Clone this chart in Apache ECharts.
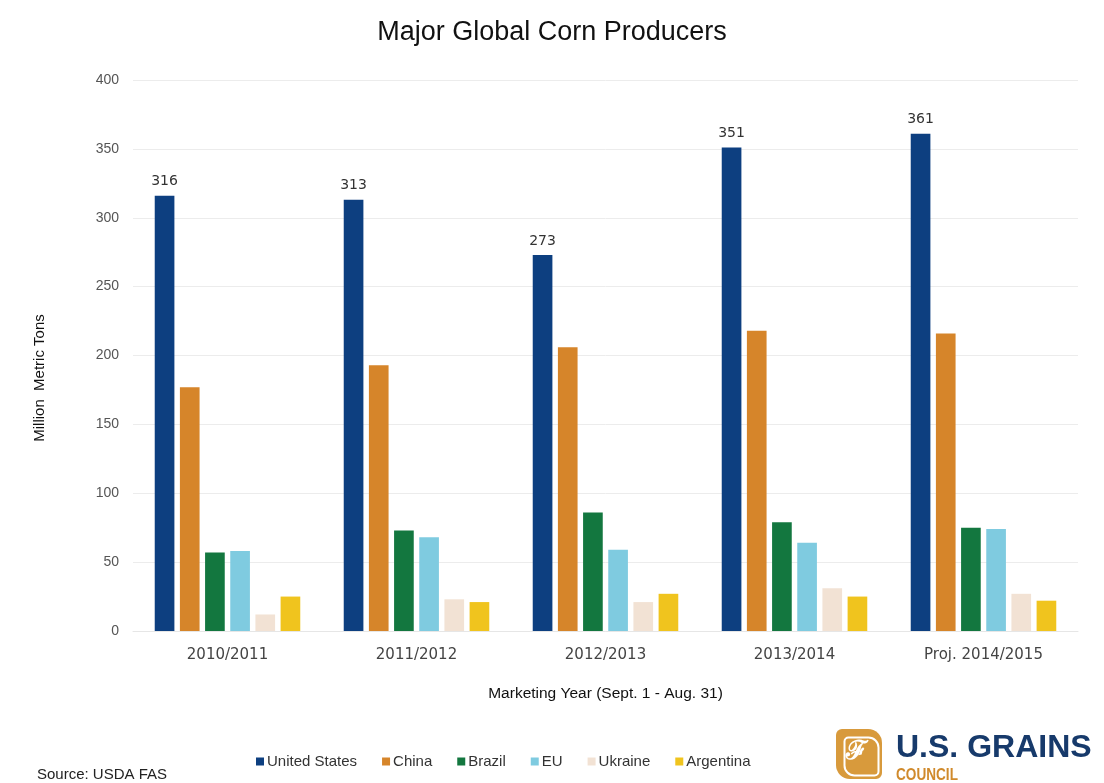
<!DOCTYPE html>
<html>
<head>
<meta charset="utf-8">
<script src="https://cdn.jsdelivr.net/npm/echarts@6/dist/echarts.min.js"></script>
<style>
  html, body { margin: 0; padding: 0; background: #ffffff; }
  #chart { width: 1104px; height: 783px; }
</style>
</head>
<body>
<div id="chart"></div>
<script>
// Marketing years (Sept. 1 - Aug. 31)
const years = ['2010/2011', '2011/2012', '2012/2013', '2013/2014', 'Proj. 2014/2015'];

// Corn production, million metric tons
const unitedStates = [316, 313, 273, 351, 361];
const china        = [177, 193, 206, 218, 216];
const brazil       = [57, 73, 86, 79, 75];
const eu           = [58, 68, 59, 64, 74];
const ukraine      = [12, 23, 21, 31, 27];
const argentina    = [25, 21, 27, 25, 22];

const yTicks = { min: 0, max: 400, interval: 50 };

const sans = '"Liberation Sans", Arial, sans-serif';
const wide = '"DejaVu Sans", Verdana, sans-serif';

const colors = {
  us: '#0d3f80',
  china: '#d6852a',
  brazil: '#13773f',
  eu: '#7fcbe0',
  ukraine: '#f2e2d4',
  argentina: '#f0c41e'
};

function bar(name, data, color, showLabel) {
  return {
    name: name,
    type: 'bar',
    data: data,
    itemStyle: { color: color },
    barGap: '28%',
    barCategoryGap: '23%',
    emphasis: { disabled: true },
    label: showLabel ? {
      show: true,
      position: 'top',
      distance: 7,
      color: '#333333',
      fontFamily: wide,
      fontSize: 14
    } : { show: false }
  };
}

const chart = echarts.init(document.getElementById('chart'), null, { renderer: 'canvas' });

chart.setOption({
  animation: false,
  backgroundColor: '#ffffff',
  title: {
    text: 'Major Global Corn Producers',
    left: 'center',
    top: 14,
    textStyle: { fontFamily: sans, fontSize: 27, fontWeight: 'normal', color: '#111111' }
  },
  grid: { left: 133, right: 26, top: 80, bottom: 152, containLabel: false },
  legend: {
    left: 251,
    top: 749,
    itemWidth: 8,
    itemHeight: 8,
    itemGap: 25,
    icon: 'rect',
    textStyle: { fontFamily: sans, fontSize: 15, color: '#333333', padding: [0, 0, 0, -2] },
    data: ['United States', 'China', 'Brazil', 'EU', 'Ukraine', 'Argentina']
  },
  xAxis: {
    type: 'category',
    data: years,
    name: 'Marketing Year (Sept. 1 - Aug. 31)',
    nameLocation: 'middle',
    nameGap: 55,
    nameTextStyle: { fontFamily: sans, fontSize: 15.5, color: '#111111' },
    axisLine: { show: true, lineStyle: { color: '#e6e6e6', width: 1 } },
    axisTick: { show: false },
    axisLabel: { fontFamily: wide, fontSize: 15, color: '#444444', margin: 17 }
  },
  yAxis: {
    type: 'value',
    min: yTicks.min,
    max: yTicks.max,
    interval: yTicks.interval,
    axisLine: { show: false },
    axisTick: { show: false },
    axisLabel: { fontFamily: sans, fontSize: 14, color: '#555555', margin: 14 },
    splitLine: { show: true, lineStyle: { color: '#ececec', width: 1 } }
  },
  series: [
    bar('United States', unitedStates, colors.us, true),
    bar('China', china, colors.china, false),
    bar('Brazil', brazil, colors.brazil, false),
    bar('EU', eu, colors.eu, false),
    bar('Ukraine', ukraine, colors.ukraine, false),
    bar('Argentina', argentina, colors.argentina, false)
  ],
  graphic: [
    // vertical axis title
    {
      type: 'text',
      x: 40,
      y: 378,
      rotation: Math.PI / 2,
      style: {
        text: 'Million  Metric Tons',
        fontFamily: sans,
        fontSize: 15,
        fill: '#111111',
        align: 'center',
        verticalAlign: 'middle'
      }
    },
    {
      type: 'text',
      left: 37,
      top: 767,
      style: { text: 'Source: USDA FAS', fontFamily: sans, fontSize: 15, fill: '#222222' }
    },
    // council logo: rounded orange badge with a stylised wheat mark
    {
      type: 'rect',
      left: 836,
      top: 729,
      shape: { width: 46, height: 50, r: [6, 14, 6, 14] },
      style: { fill: '#d89a3c' }
    },
    {
      type: 'rect',
      left: 842,
      top: 735,
      shape: { width: 34, height: 38, r: [4, 10, 4, 10] },
      style: { fill: 'none', stroke: '#ffffff', lineWidth: 2 }
    },
    {
      type: 'text',
      left: 846,
      top: 739,
      style: { text: 'ℱ', fontFamily: sans, fontSize: 26, fontWeight: 'bold', fill: '#ffffff' }
    },
    {
      type: 'text',
      x: 896,
      y: 748,
      style: {
        text: 'U.S. GRAINS',
        fontFamily: sans,
        fontSize: 32,
        fontWeight: 'bold',
        fill: '#173a6b',
        verticalAlign: 'middle'
      }
    },
    {
      type: 'text',
      x: 896,
      y: 775,
      scaleX: 0.8,
      style: {
        text: 'COUNCIL',
        fontFamily: sans,
        fontSize: 17,
        fontWeight: 'bold',
        fill: '#d08a2c',
        verticalAlign: 'middle'
      }
    }
  ]
});
</script>
</body>
</html>
